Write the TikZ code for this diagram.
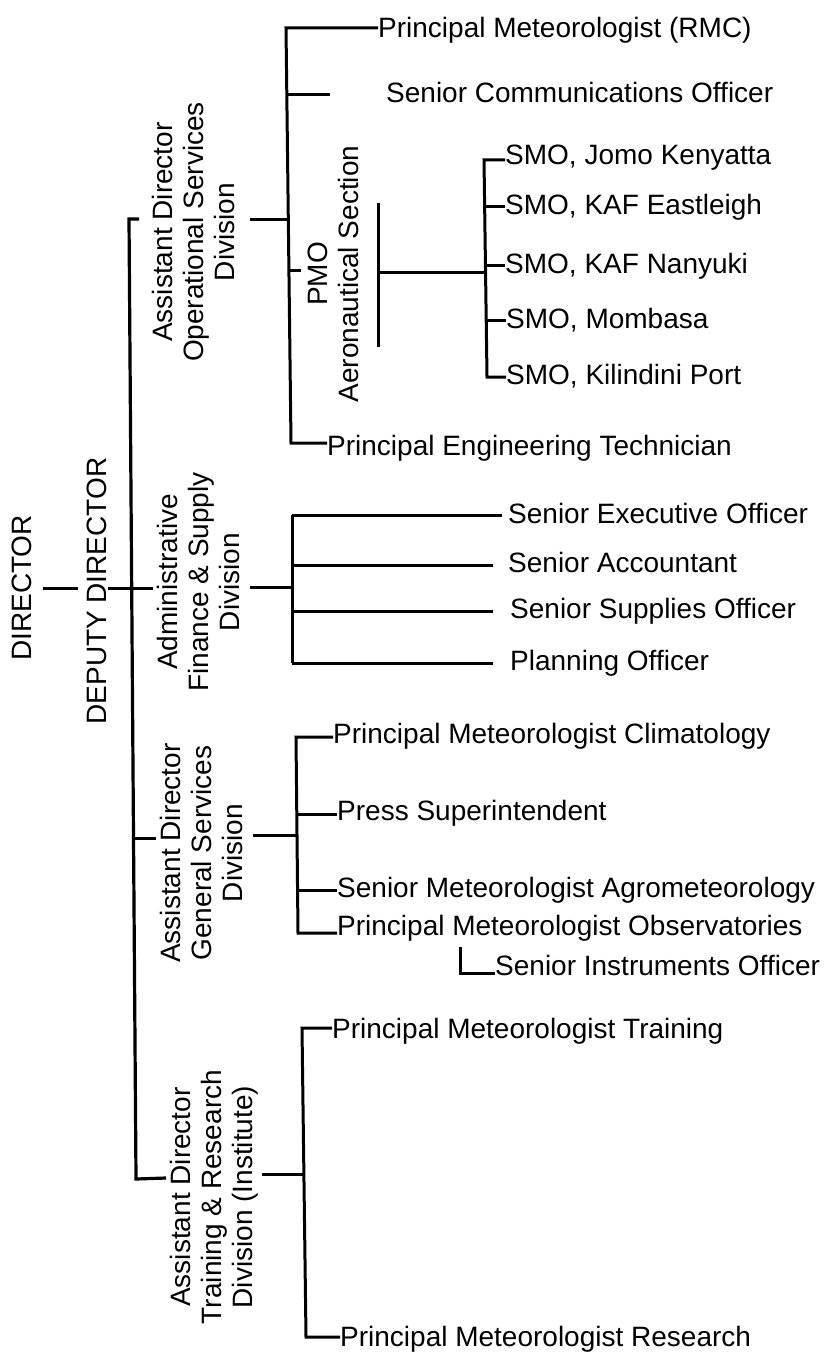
\documentclass[tikz,border=0pt]{standalone}
\usepackage{fontspec}
\setmainfont{Liberation Sans}
\begin{document}
\begin{tikzpicture}[x=1pt,y=-1pt,
  ln/.style={line width=3pt, line join=miter},
  leaf/.style={anchor=west, inner sep=0pt, font=\fontsize{28}{31}\selectfont, text height=20pt, text depth=0pt},
  div/.style={rotate=90, align=center, inner sep=0pt, font=\fontsize{28}{31}\selectfont}]
\useasboundingbox (0,0) rectangle (832,1356);
% rotated headings
\node[div] (dir) at (22,588) {DIRECTOR};
\node[div] (dep) at (97,591) {DEPUTY DIRECTOR};
\node[div] (ops) at (193,232) {Assistant Director\\Operational Services\\Division};
\node[div] (adm) at (198,582) {Administrative\\Finance \& Supply\\Division};
\node[div] (gen) at (201,853) {Assistant Director\\General Services\\Division};
\node[div] (trn) at (214,1197) {Assistant Director\\Training \& Research\\Division (Institute)};
\node[div] (pmo) at (333,274) {PMO\\Aeronautical Section};
% leaves
\node[leaf] (rmc) at (378,28) {Principal Meteorologist (RMC)};
\node[leaf] (sco) at (386,93) {Senior Communications Officer};
\node[leaf] (smo1) at (505,155) {SMO, Jomo Kenyatta};
\node[leaf] (smo2) at (505,205) {SMO, KAF Eastleigh};
\node[leaf] (smo3) at (505,263) {SMO, KAF Nanyuki};
\node[leaf] (smo4) at (506,318) {SMO, Mombasa};
\node[leaf] (smo5) at (506,374) {SMO, Kilindini Port};
\node[leaf] (pet) at (327,445) {Principal Engineering Technician};
\node[leaf] (seo) at (508,513) {Senior Executive Officer};
\node[leaf] (sac) at (508,562) {Senior Accountant};
\node[leaf] (sso) at (510,608) {Senior Supplies Officer};
\node[leaf] (plo) at (510,660) {Planning Officer};
\node[leaf] (clim) at (333,733) {Principal Meteorologist Climatology};
\node[leaf] (press) at (337,810) {Press Superintendent};
\node[leaf] (agro) at (337,887) {Senior Meteorologist Agrometeorology};
\node[leaf] (obs) at (337,925) {Principal Meteorologist Observatories};
\node[leaf] (sio) at (495,965) {Senior Instruments Officer};
\node[leaf] (pmt) at (332,1028) {Principal Meteorologist Training};
\node[leaf] (pmr) at (340,1336) {Principal Meteorologist Research};
% coordinates
\coordinate (dirR) at (43,588); \coordinate (depL) at (78,588);
\coordinate (depR) at (108,588); \coordinate (admL) at (153,588);
\coordinate (mT) at (129,219); \coordinate (mB) at (136,1179);
\coordinate (opsL) at (139,219); \coordinate (trnL) at (166,1178);
\coordinate (genL) at (156,838); \coordinate (mG) at (133,838);
\coordinate (opsR) at (250,220); \coordinate (oJ) at (288,220);
\coordinate (oT) at (286,28); \coordinate (oB) at (291,443);
\coordinate (oS) at (286,95); \coordinate (scoL) at (330,95);
\coordinate (oP) at (289,270); \coordinate (pmoL) at (301,270);
\coordinate (pbT) at (378,203); \coordinate (pbB) at (378,347);
\coordinate (pbJ) at (378,272); \coordinate (sJ) at (485,272);
\coordinate (sT) at (484,160); \coordinate (sB) at (487,377);
\coordinate (s2) at (485,207); \coordinate (s3) at (486,265); \coordinate (s4) at (486,320);
\coordinate (admR) at (250,587); \coordinate (aJ) at (292,587);
\coordinate (aT) at (292,515); \coordinate (a2) at (292,565);
\coordinate (a3) at (292,611); \coordinate (aB) at (292,663);
\coordinate (genR) at (253,835); \coordinate (gJ) at (297,835);
\coordinate (gT) at (296,737); \coordinate (gB) at (298,933);
\coordinate (g2) at (297,814); \coordinate (g3) at (298,890);
\coordinate (iT) at (460,947); \coordinate (iB) at (460,973);
\coordinate (trnR) at (262,1174); \coordinate (tJ) at (303,1174);
\coordinate (tT) at (302,1028); \coordinate (tB) at (306,1337);
% connectors
\draw[ln] (dirR) -- (depL);
\draw[ln] (depR) -- (admL);
\draw[ln, line width=3.2pt] (opsL) -- (mT) -- (mB) -- (trnL);
\draw[ln] (mG) -- (genL);
% operational services
\draw[ln] (opsR) -- (oJ);
\draw[ln] (rmc.west) -- (oT) -- (oB) -- (pet.west |- oB);
\draw[ln] (oS) -- (scoL);
\draw[ln] (oP) -- (pmoL);
\draw[ln] (pbT) -- (pbB);
\draw[ln] (pbJ) -- (sJ);
\draw[ln] (smo1.west |- sT) -- (sT) -- (sB) -- (smo5.west |- sB);
\draw[ln] (s2) -- (s2 -| smo2.west);
\draw[ln] (s3) -- (s3 -| smo3.west);
\draw[ln] (s4) -- (s4 -| smo4.west);
% administrative
\draw[ln] (admR) -- (aJ);
\draw[ln] (aT) -- (aB);
\draw[ln, shorten >=6pt] (aT) -- (aT -| seo.west);
\draw[ln, shorten >=15pt] (a2) -- (a2 -| sac.west);
\draw[ln, shorten >=17pt] (a3) -- (a3 -| sso.west);
\draw[ln, shorten >=17pt] (aB) -- (aB -| plo.west);
% general services
\draw[ln] (genR) -- (gJ);
\draw[ln] (clim.west |- gT) -- (gT) -- (gB) -- (obs.west |- gB);
\draw[ln] (g2) -- (g2 -| press.west);
\draw[ln] (g3) -- (g3 -| agro.west);
\draw[ln] (iT) -- (iB) -- (iB -| sio.west);
% training
\draw[ln] (trnR) -- (tJ);
\draw[ln] (pmt.west |- tT) -- (tT) -- (tB) -- (pmr.west |- tB);
\end{tikzpicture}
\end{document}
